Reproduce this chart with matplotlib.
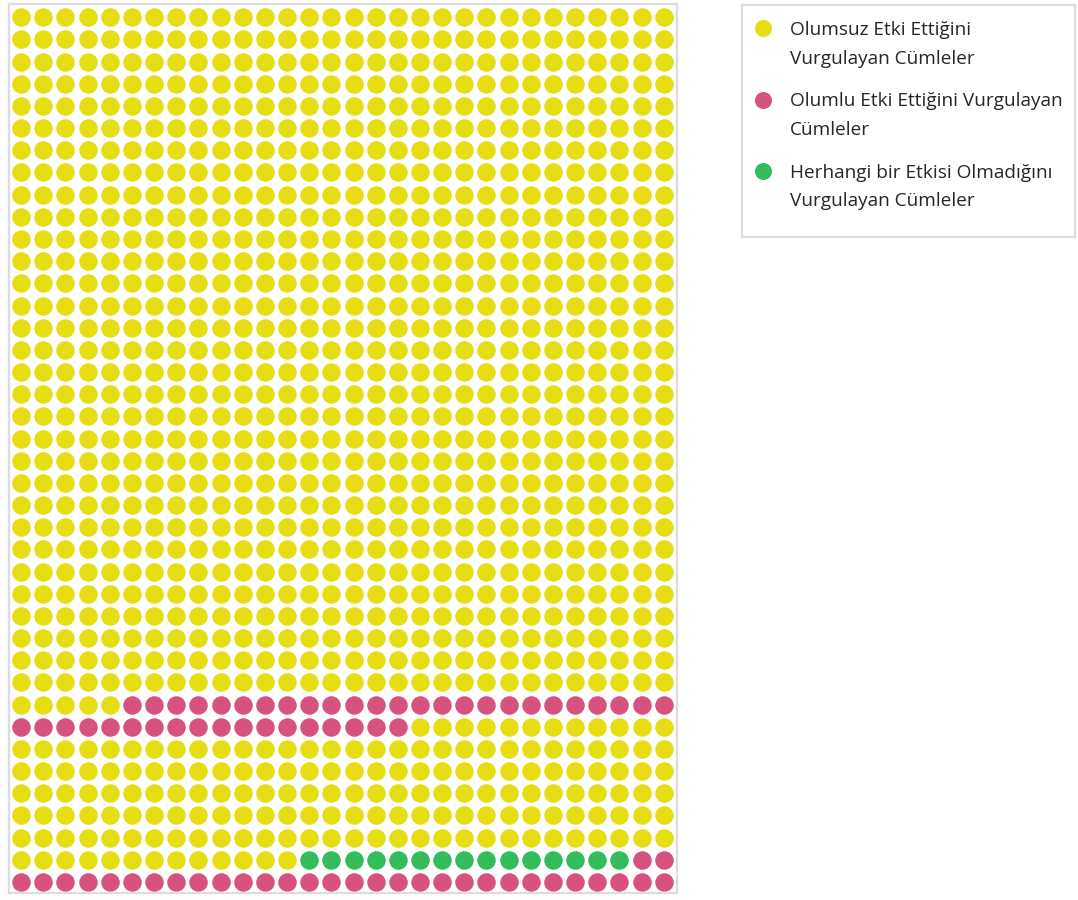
import numpy as np
import matplotlib
matplotlib.use('Agg')
from matplotlib import pyplot as plt

# categories and colours
categories = ["Olumsuz Etki Ettiğini\nVurgulayan Cümleler",
              "Olumlu Etki Ettiğini Vurgulayan\nCümleler",
              "Herhangi bir Etkisi Olmadığını\nVurgulayan Cümleler"]
colors = ["#E6DD12", "#D8527F", "#33BD5A"]

# runs of dots, read left to right, top to bottom
run_category = [0, 1, 0, 2, 1]
run_count = [935, 43, 175, 15, 32]

n_cols = 30
n_rows = 40

plt.rcParams['font.family'] = ['Open Sans', 'DejaVu Sans']

W, H = 1078, 900
fig = plt.figure(figsize=(W / 100, H / 100), dpi=100)

# waffle grid
ax = fig.add_axes([9 / W, 1 - 893 / H, (677 - 9) / W, (893 - 4) / H])
cats = np.repeat(run_category, run_count)
idx = np.arange(len(cats))
col = idx % n_cols
row = idx // n_cols
for c in range(len(categories)):
    m = cats == c
    ax.scatter(col[m], row[m], s=178, color=colors[c], linewidths=0)
ax.set_xlim(-0.55, n_cols - 1 + 0.6)
ax.set_ylim(n_rows - 1 + 0.5, -0.6)
ax.set_xticks([])
ax.set_yticks([])
for sp in ax.spines.values():
    sp.set_color("#dcdcdc")
    sp.set_linewidth(1.6)

# legend box
lx0, ly0, lx1, ly1 = 742, 5, 1075, 237
lax = fig.add_axes([lx0 / W, 1 - ly1 / H, (lx1 - lx0) / W, (ly1 - ly0) / H])
lax.set_xlim(lx0, lx1)
lax.set_ylim(ly1, ly0)
lax.set_xticks([])
lax.set_yticks([])
for sp in lax.spines.values():
    sp.set_color("#dcdcdc")
    sp.set_linewidth(1.6)

for i, label in enumerate(categories):
    y = 28 + i * 71.5
    lax.scatter([763], [y], s=150, color=colors[i], linewidths=0)
    for j, line in enumerate(label.split("\n")):
        lax.text(790, y + 2 + j * 28.5, line, fontsize=13.7, color="#262626",
                 va='center', ha='left')

fig.savefig("out.png", dpi=100)
